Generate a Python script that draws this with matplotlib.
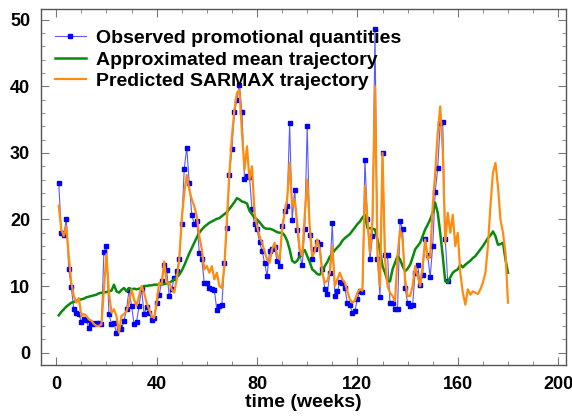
import numpy as np
import matplotlib
matplotlib.use("Agg")
import matplotlib.pyplot as plt
from matplotlib.ticker import MultipleLocator

# weekly observed promotional quantities (weeks 1..156)
observed = [
    25.5, 18.0, 17.7, 20.0, 12.5, 9.8, 6.5, 6.0, 5.8, 4.6,
    5.1, 4.9, 3.7, 4.5, 4.3, 4.4, 4.5, 4.3, 15.1, 16.0,
    5.8, 4.3, 4.4, 3.0, 3.8, 3.5, 4.8, 6.5, 9.4, 7.0,
    4.3, 4.6, 7.0, 9.6, 5.8, 6.8, 6.0, 4.9, 5.2, 7.4,
    8.6, 10.7, 13.2, 12.4, 8.5, 9.5, 11.2, 12.2, 14.0, 19.3,
    27.6, 30.8, 25.5, 20.7, 19.3, 19.8, 15.0, 14.0, 10.4, 10.4,
    9.7, 9.6, 9.4, 6.4, 7.0, 7.1, 13.4, 18.7, 26.7, 30.6,
    36.1, 38.0, 40.2, 36.1, 26.1, 26.5, 26.4, 21.5, 19.3, 18.5,
    16.6, 15.3, 13.5, 11.5, 15.3, 15.6, 15.8, 13.8, 13.0, 19.0,
    21.3, 22.0, 34.5, 19.9, 24.5, 18.4, 14.8, 13.1, 18.5, 34.0,
    17.7, 14.0, 15.5, 16.6, 16.3, 12.5, 9.6, 8.8, 12.0, 19.5,
    8.5, 9.2, 10.6, 10.5, 9.7, 7.4, 7.1, 6.0, 6.2, 8.1,
    9.2, 9.1, 29.0, 20.0, 14.0, 17.5, 48.6, 14.0, 8.4, 30.0,
    14.7, 14.7, 7.4, 7.4, 6.5, 6.5, 19.7, 18.5, 9.7, 7.5,
    7.0, 7.1, 12.0, 13.2, 10.2, 11.7, 17.1, 14.7, 11.3, 16.0,
    24.1, 27.7, 34.5, 34.6, 17.1, 10.7,
]

# approximated mean trajectory (weeks 1..180)
mean_traj = [
    5.6, 6.1, 6.5, 6.9, 7.2, 7.5, 7.6, 7.8, 7.9, 8.0,
    8.1, 8.3, 8.4, 8.5, 8.6, 8.7, 8.9, 9.0, 9.0, 9.1,
    9.2, 9.3, 10.2, 9.2, 9.0, 9.4, 9.7, 9.2, 9.7, 9.5,
    9.6, 9.5, 9.6, 9.7, 10.0, 10.0, 10.1, 10.1, 10.2, 10.2,
    10.2, 10.2, 10.3, 10.4, 10.5, 10.7, 11.0, 11.3, 11.7, 12.3,
    13.1, 14.0, 14.9, 15.7, 16.5, 17.3, 18.0, 18.5, 18.9, 19.2,
    19.5, 19.7, 19.9, 20.1, 20.2, 20.5, 20.8, 21.1, 21.6, 22.1,
    22.6, 23.2, 23.0, 22.7, 22.6, 22.4, 21.3, 20.8, 20.3, 20.0,
    19.6, 19.1, 18.7, 18.6, 18.6, 18.5, 18.3, 18.1, 18.0, 18.0,
    17.6, 16.8, 15.5, 13.8, 13.5, 13.8, 14.5, 15.1, 15.4, 14.5,
    13.6, 12.5, 12.2, 11.8, 11.7, 12.2, 13.0, 13.6, 14.4, 14.9,
    15.4, 15.8, 16.2, 16.8, 17.2, 17.5, 17.8, 18.3, 18.8, 19.3,
    19.7, 20.3, 20.7, 18.7, 18.7, 18.6, 18.5, 17.0, 15.3, 13.0,
    12.0, 10.8, 10.7, 12.5, 13.5, 14.5, 14.0, 13.0, 12.2, 12.6,
    13.2, 14.3, 15.5, 16.0, 16.5, 17.5, 18.5, 19.2, 20.0, 21.0,
    22.5, 21.0, 18.0, 14.5, 10.7, 10.5, 11.3, 12.0, 12.3, 12.5,
    13.2, 12.8, 13.2, 13.5, 13.8, 14.2, 14.5, 15.0, 15.5, 16.0,
    16.6, 17.2, 17.6, 18.2, 17.5, 16.2, 16.3, 16.5, 14.0, 12.0,
]

# predicted SARMAX trajectory (weeks 1..180)
predicted = [
    22.1, 18.5, 17.5, 19.0, 14.5, 10.5, 8.5, 7.5, 8.2, 5.5,
    5.8, 5.5, 5.0, 4.8, 4.3, 4.0, 4.0, 4.2, 9.5, 14.8,
    9.0, 6.0, 6.5, 5.5, 3.0, 5.5, 5.8, 6.2, 7.5, 9.5,
    8.0, 7.0, 8.5, 10.0, 9.0, 7.5, 6.5, 5.5, 5.2, 7.5,
    10.5, 10.2, 13.7, 10.5, 10.5, 9.5, 9.0, 11.0, 14.0, 20.0,
    24.0, 26.7, 24.5, 23.0, 22.0, 20.5, 17.5, 15.5, 12.5, 13.0,
    12.0, 13.0, 11.0, 12.0, 10.0, 9.7, 13.0, 20.0, 27.0, 32.5,
    36.5, 39.0, 39.5, 33.0, 27.5, 31.0, 26.0, 28.0, 21.0, 19.0,
    17.5, 16.5, 15.2, 14.0, 13.5, 15.5, 16.5, 14.7, 14.0, 18.5,
    21.0, 23.0, 28.5, 22.0, 23.0, 19.5, 15.5, 14.5, 20.5, 26.0,
    19.0, 14.5, 15.2, 17.0, 15.5, 12.0, 10.5, 10.8, 12.0, 16.0,
    10.0, 11.0, 12.0, 11.0, 10.5, 9.2, 8.0, 7.5, 7.8, 9.0,
    9.5, 9.3, 25.0, 20.0, 15.0, 20.0, 40.0, 15.0, 10.0, 30.0,
    14.0, 10.0, 9.0, 8.5, 7.7, 14.5, 18.5, 17.0, 11.0, 8.5,
    8.5, 10.0, 13.0, 11.5, 10.0, 13.0, 17.0, 14.0, 14.5, 22.0,
    27.0, 33.0, 37.0, 30.5, 16.5, 21.0, 18.0, 20.7, 16.0, 18.0,
    12.0, 9.0, 7.2, 9.5, 8.7, 9.2, 9.0, 8.8, 9.5, 10.5,
    12.0, 16.0, 22.0, 27.0, 28.5, 25.0, 20.0, 18.0, 15.0, 7.5,
]

weeks_obs = np.arange(1, len(observed) + 1)
weeks_all = np.arange(1, len(predicted) + 1)

plt.rcParams['font.family'] = ['Liberation Sans', 'DejaVu Sans']
plt.rcParams['font.weight'] = 'bold'

fig = plt.figure(figsize=(5.72, 4.19), dpi=100)
ax = fig.add_axes([0.072, 0.13, 0.917, 0.848])

ax.plot(weeks_obs, observed, color='#5a5aff', lw=0.8, marker='s', ms=3.5,
        mfc='#0000ff', mec='#0000ff', label='Observed promotional quantities')
ax.plot(weeks_all, mean_traj, color='#0a8a0a', lw=1.8, label='Approximated mean trajectory')
ax.plot(weeks_all, predicted, color='#ff8c10', lw=1.6, label='Predicted SARMAX trajectory')

ax.set_xlim(-6, 203)
ax.set_ylim(-1.8, 51.6)
ax.xaxis.set_major_locator(MultipleLocator(40))
ax.xaxis.set_minor_locator(MultipleLocator(10))
ax.yaxis.set_major_locator(MultipleLocator(10))
ax.yaxis.set_minor_locator(MultipleLocator(2))
ax.tick_params(which='both', direction='in', top=True, right=True, color='#777777')
ax.tick_params(which='major', length=6, labelsize=13, pad=8)
ax.tick_params(which='minor', length=3)
for s in ax.spines.values():
    s.set_color('#555555')
    s.set_linewidth(1.0)

ax.set_xlabel('time (weeks)', fontsize=14, fontweight='bold', labelpad=1)

leg = ax.legend(loc='upper left', bbox_to_anchor=(0.011, 0.965), frameon=False,
                fontsize=14, handlelength=1.6, labelspacing=0.2,
                borderaxespad=0.0, handletextpad=0.5)
for t in leg.get_texts():
    t.set_fontweight('bold')

fig.savefig('out.png', dpi=100)
